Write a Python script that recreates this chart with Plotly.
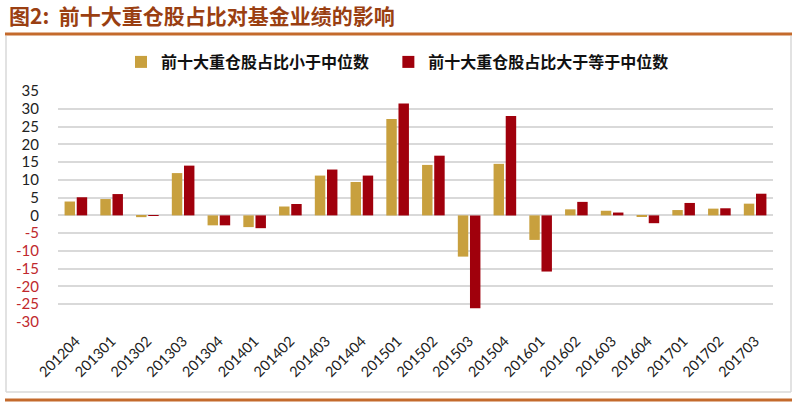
import plotly.graph_objects as go

categories = ["201204", "201301", "201302", "201303", "201304", "201401", "201402",
              "201403", "201404", "201501", "201502", "201503", "201504", "201601",
              "201602", "201603", "201604", "201701", "201702", "201703"]
below_median = [3.9, 4.6, -0.5, 11.9, -2.8, -3.3, 2.5, 11.2, 9.4, 27.1, 14.2, -11.6,
                14.5, -6.9, 1.7, 1.3, -0.3, 1.5, 1.9, 3.3]
above_median = [5.1, 6.0, 0.1, 14.0, -2.8, -3.6, 3.2, 12.9, 11.2, 31.5, 16.8, -26.1,
                28.0, -15.8, 3.8, 0.8, -2.2, 3.5, 2.0, 6.1]
y_ticks = [35, 30, 25, 20, 15, 10, 5, 0, -5, -10, -15, -20, -25, -30]
series_names = ["前十大重仓股占比小于中位数", "前十大重仓股占比大于等于中位数"]
title_text = "图2:  前十大重仓股占比对基金业绩的影响"

W, H = 800, 402
L, R, T, B = 58, 27, 91, 80
pw, ph = W - L - R, H - T - B


def px(x):
    return (x - L) / pw


def py(y):
    return (H - B - y) / ph


gold = "#C8A03E"
red = "#A0000C"
orange = "#C46A2C"
grid = "#D9D9D9"

fig = go.Figure()
fig.add_trace(go.Bar(x=categories, y=below_median,
                     name=f"<b>{series_names[0]}</b>" + "&nbsp;" * 4,
                     marker=dict(color=gold, line=dict(width=0))))
fig.add_trace(go.Bar(x=categories, y=above_median, name=f"<b>{series_names[1]}</b>",
                     marker=dict(color=red, line=dict(width=0))))

ticktext = [str(v) if v >= 0 else f'<span style="color:#C0282D">{v}</span>' for v in y_ticks]

fig.update_layout(
    width=W, height=H,
    margin=dict(l=L, r=R, t=T, b=B),
    paper_bgcolor="white", plot_bgcolor="white",
    barmode="group", bargap=0.32, bargroupgap=0.14,
    font=dict(family="Lato, 'Noto Sans CJK SC', sans-serif", color="#222222"),
    title=dict(text=f"<b>{title_text}</b>", xref="container", yref="container",
               x=9 / W, y=1 - 17 / H, xanchor="left", yanchor="middle",
               font=dict(size=21, color="#9A3F12",
                         family="'Noto Sans CJK SC', sans-serif")),
    legend=dict(orientation="h", x=px(121), y=py(62), xanchor="left", yanchor="middle",
                font=dict(size=16, color="#111111", family="'Noto Sans CJK SC', sans-serif"),
                itemwidth=30, traceorder="normal", bgcolor="rgba(0,0,0,0)"),
    xaxis=dict(type="category", tickangle=-45, tickfont=dict(size=14.5, color="#222222"),
               showgrid=False, showline=False, ticks="", ticklen=0, ticklabelstandoff=7),
    yaxis=dict(range=[-30, 35], tickvals=y_ticks, ticktext=ticktext,
               tickfont=dict(size=15, color="#222222"),
               showgrid=True, gridcolor=grid, gridwidth=1.5,
               zeroline=True, zerolinecolor=grid, zerolinewidth=1.5,
               showline=False, ticks="", ticklabelstandoff=18),
    shapes=[
        dict(type="line", xref="paper", yref="paper", x0=px(5), x1=px(792), y0=py(34), y1=py(34),
             line=dict(color=orange, width=3)),
        dict(type="line", xref="paper", yref="paper", x0=px(5), x1=px(792), y0=py(400), y1=py(400),
             line=dict(color=orange, width=3)),
        dict(type="line", xref="paper", yref="paper", x0=px(6), x1=px(6), y0=py(36), y1=py(392),
             line=dict(color=grid, width=1.5)),
        dict(type="line", xref="paper", yref="paper", x0=px(791), x1=px(791), y0=py(36), y1=py(392),
             line=dict(color=grid, width=1.5)),
        dict(type="line", xref="paper", yref="paper", x0=px(6), x1=px(791), y0=py(392), y1=py(392),
             line=dict(color=grid, width=1.5)),
    ],
)

fig.write_html("out.html")
